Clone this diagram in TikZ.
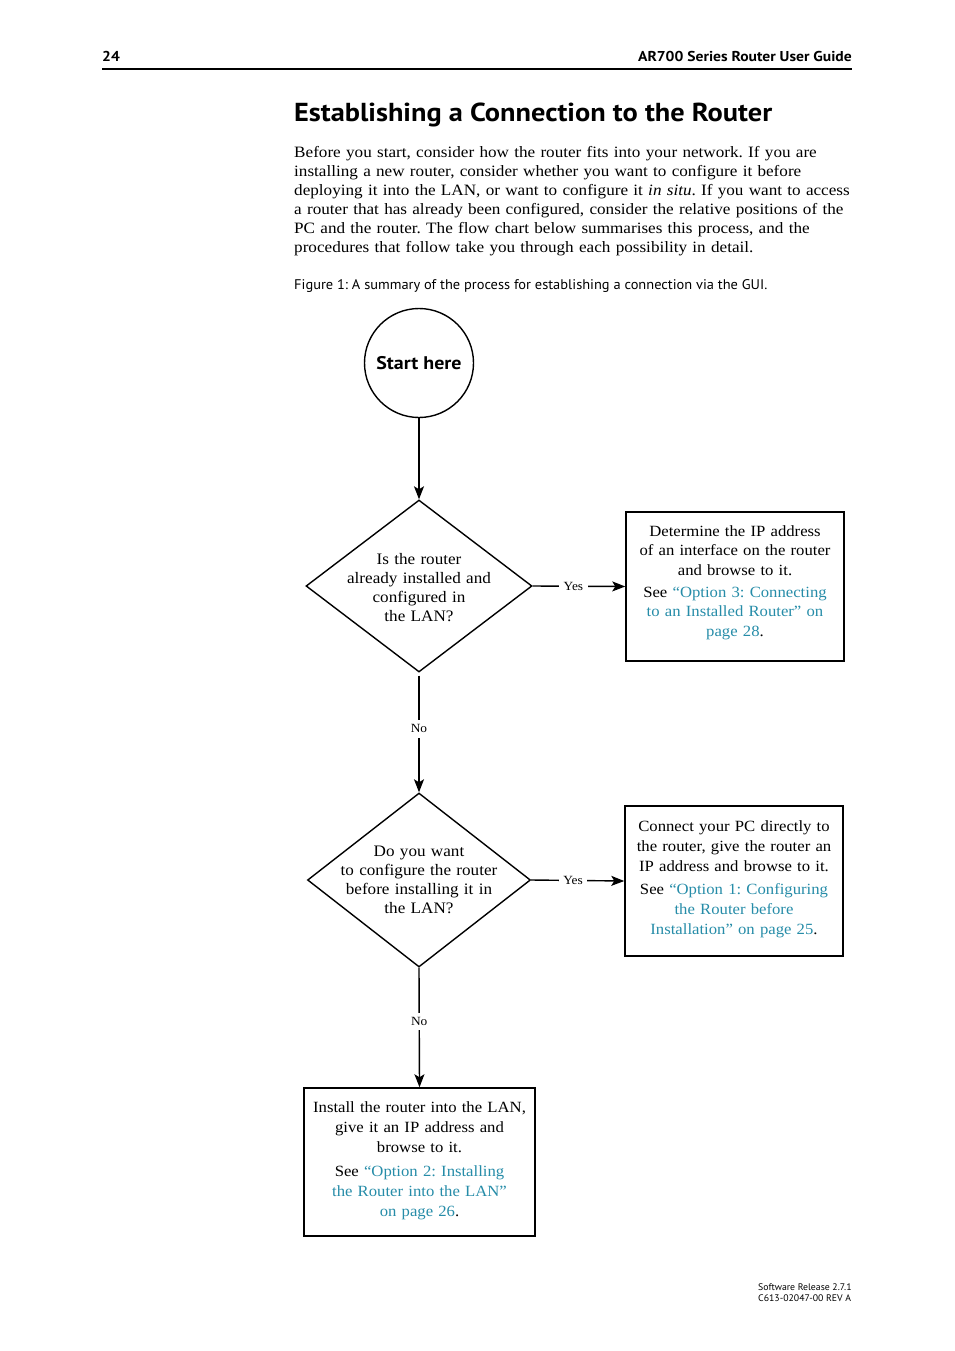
\documentclass[tikz,border=0pt]{standalone}
\usepackage{fontspec}
\setmainfont{Liberation Serif}[FakeStretch=1.07]
\newfontfamily\parafont{Liberation Serif}[FakeStretch=1.085]
\newfontfamily\hsans{PT Sans}[FakeStretch=1.03]
\newfontfamily\hsansb{PT Sans Bold}[FakeStretch=1.09]
\usetikzlibrary{shapes.geometric,arrows.meta}
\definecolor{linkc}{RGB}{38,140,168}
\newcommand\lk[1]{\textcolor{linkc}{#1}}
\tikzset{
  conn/.style={line width=1.4pt, -{Stealth[length=13pt,width=10pt,inset=3pt]}},
  decision/.style={draw, diamond, line width=1.4pt, inner sep=0pt},
  infobox/.style={draw, rectangle, line width=1.5pt, inner sep=0pt},
  boxtext/.style={inner sep=0pt, text width=228pt, align=center,
    font=\fontsize{15.6}{19.7}\selectfont},
  dtext/.style={inner sep=0pt, text width=200pt, align=center,
    font=\fontsize{16}{19}\selectfont},
  lab/.style={fill=white, inner sep=4.5pt, font=\fontsize{12.5}{14}\selectfont},
}
\begin{document}
\frenchspacing
\begin{tikzpicture}[x=1pt,y=1pt]
\useasboundingbox (0,0) rectangle (954,-1351);
% header
\node[anchor=base west, inner sep=0pt, font=\hsansb\fontsize{14.3}{16}\selectfont] (pnum) at (102,-62) {24};
\node[anchor=base east, inner sep=0pt, font=\hsansb\fontsize{14.3}{16}\selectfont] (htitle) at (852,-62) {AR700 Series Router User Guide};
\draw[line width=2pt] (102,-69) -- (852,-69);
% title and paragraph
\node[anchor=base west, inner sep=0pt, font=\hsansb\fontsize{26}{30}\selectfont] (title) at (294,-122) {Establishing a Connection to the Router};
\node[anchor=north west, inner sep=0pt, text width=600pt, align=left, font=\parafont\fontsize{15.8}{19}\selectfont] (para) at (294,-146) {Before you start, consider how the router fits into your network. If you are\\
installing a new router, consider whether you want to configure it before\\
deploying it into the LAN, or want to configure it \textit{in situ}. If you want to access\\
a router that has already been configured, consider the relative positions of the\\
PC and the router. The flow chart below summarises this process, and the\\
procedures that follow take you through each possibility in detail.};
\node[anchor=base west, inner sep=0pt, font=\hsans\fontsize{14}{16}\selectfont] (cap) at (294,-289) {Figure 1: A summary of the process for establishing a connection via the GUI.};
% flow chart
\node[draw, circle, line width=1.4pt, minimum size=109pt, inner sep=0pt, font=\hsansb\fontsize{18.3}{20}\selectfont] (start) at (419,-363) {Start here};
\node[decision, minimum width=226pt, minimum height=172pt] (d1) at (419,-586) {};
\node[dtext, anchor=north, yshift=32.5pt] (d1t) at (d1.center) {Is the router\\ already installed and\\ configured in\\ the LAN?};
\node[infobox, minimum width=218pt, minimum height=149pt] (b1) at (735,-586.5) {};
\node[boxtext, anchor=north, yshift=-13.8pt] (b1t) at (b1.north) {Determine the IP address\\ of an interface on the router\\ and browse to it.\\[2pt]
See \lk{“Option 3: Connecting}\\ \lk{to an Installed Router” on}\\ \lk{page 28}.};
\node[decision, minimum width=223pt, minimum height=174pt] (d2) at (419,-880) {};
\node[dtext, anchor=north, yshift=34.5pt] (d2t) at (d2.center) {Do you want\\ to configure the router\\ before installing it in\\ the LAN?};
\node[infobox, minimum width=218pt, minimum height=150pt] (b2) at (734,-881) {};
\node[boxtext, anchor=north, yshift=-15.5pt] (b2t) at (b2.north) {Connect your PC directly to\\ the router, give the router an\\ IP address and browse to it.\\[4pt]
See \lk{“Option 1: Configuring}\\ \lk{the Router before}\\ \lk{Installation” on page 25}.};
\node[infobox, minimum width=231pt, minimum height=148pt] (b3) at (419.5,-1162) {};
\node[boxtext, anchor=north, yshift=-14.5pt] (b3t) at (b3.north) {Install the router into the LAN,\\ give it an IP address and\\ browse to it.\\[5pt]
See \lk{“Option 2: Installing}\\ \lk{the Router into the LAN”}\\ \lk{on page 26}.};
% connectors
\draw[conn] (start.south) -- (d1.north);
\draw[conn] (d1.east) -- node[lab, pos=0.44] {Yes} (b1.west);
\draw[conn, shorten <=3pt] (d1.south) -- node[lab, pos=0.47] {No} (d2.north);
\draw[conn] (d2.east) -- node[lab, pos=0.45] {Yes} (b2.west);
\draw[conn] (d2.south) -- node[lab, pos=0.45] {No} (b3.north);
% footer
\node[anchor=base west, inner sep=0pt, font=\hsans\fontsize{9.5}{11}\selectfont] (f1) at (758,-1290) {Software Release 2.7.1};
\node[anchor=base west, inner sep=0pt, font=\hsans\fontsize{9.5}{11}\selectfont] (f2) at (758,-1301) {C613-02047-00 REV A};
\end{tikzpicture}
\end{document}
